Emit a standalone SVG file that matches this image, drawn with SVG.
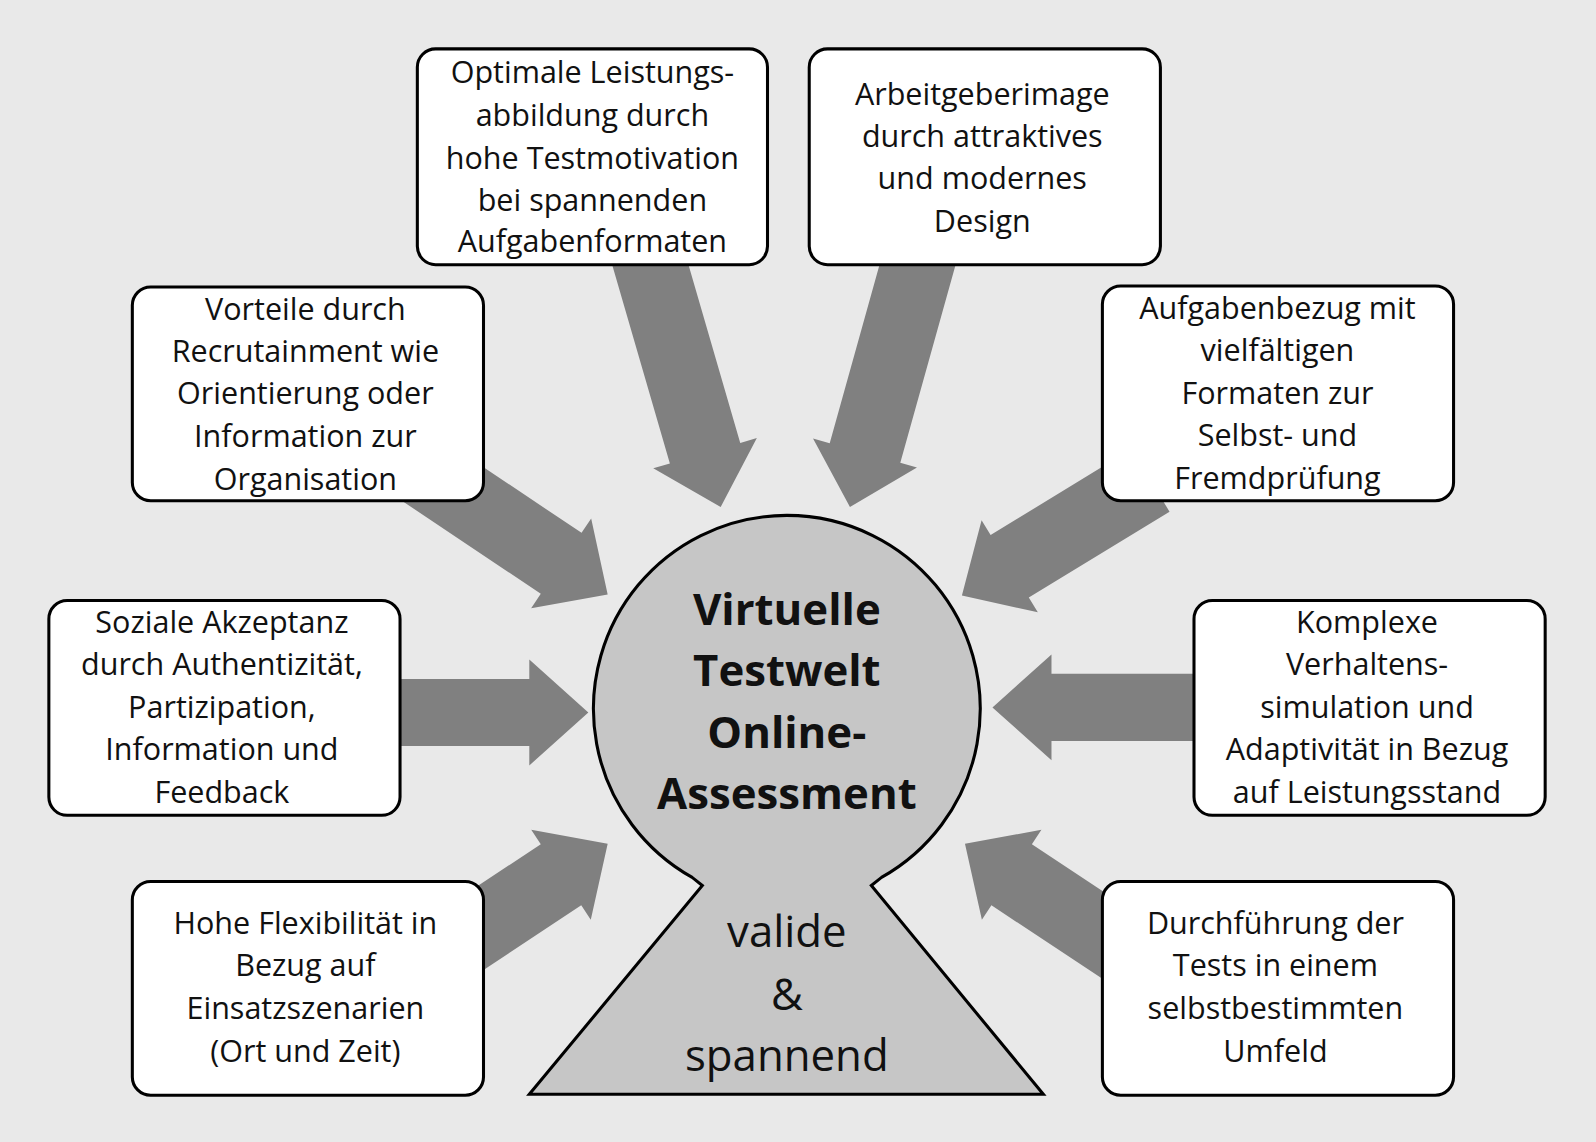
<svg xmlns="http://www.w3.org/2000/svg" width="1596" height="1142" viewBox="0 0 1596 1142">
<style>
.b{fill:#fff;stroke:#000;stroke-width:3}
.a{fill:#808080}
text{font-family:"Open Sans","Noto Sans",sans-serif;font-size:30px;text-anchor:middle;fill:#111}
.c{font-size:43px}
.cb{font-size:43px;font-weight:bold}
</style>
<rect width="1596" height="1142" fill="#e9e9e9"/>
<g transform="scale(1.0179)">
<g id="connectors" class="a">
<g transform="translate(708,498) rotate(73.8)"><polygon points="-279,-36 -55,-36 -55,-53 0,0 -55,53 -55,36 -279,36"/></g>
<g transform="translate(835,498) rotate(105.6)"><polygon points="-278,-36 -55,-36 -55,-53 0,0 -55,53 -55,36 -278,36"/></g>
<g transform="translate(597,584) rotate(33.8)"><polygon points="-225,-36 -55,-36 -55,-53 0,0 -55,53 -55,36 -225,36"/></g>
<g transform="translate(945,585) rotate(148.6)"><polygon points="-217,-36 -55,-36 -55,-53 0,0 -55,53 -55,36 -217,36"/></g>
<g transform="translate(578,700)"><polygon points="-198,-33 -58,-33 -58,-52 0,0 -58,52 -58,33 -198,33"/></g>
<g transform="translate(975,695) rotate(180)"><polygon points="-205,-33 -58,-33 -58,-52 0,0 -58,52 -58,33 -205,33"/></g>
<g transform="translate(597,829) rotate(-33.5)"><polygon points="-216,-36 -55,-36 -55,-53 0,0 -55,53 -55,36 -216,36"/></g>
<g transform="translate(948,829) rotate(213.5)"><polygon points="-216,-36 -55,-36 -55,-53 0,0 -55,53 -55,36 -216,36"/></g>
</g>
<g id="center">
<path d="M520,1075 L690,870 L680,862 A190,190 0 1 1 866,862 L856,870 L1025,1075 Z" fill="#c6c6c6" stroke="#000" stroke-width="3"/>
<text x="773" y="614" class="cb">Virtuelle</text>
<text x="773" y="674" class="cb">Testwelt</text>
<text x="773" y="735" class="cb">Online-</text>
<text x="773" y="795" class="cb">Assessment</text>
<text x="773" y="930" class="c">valide</text>
<text x="773" y="992" class="c">&amp;</text>
<text x="773" y="1052" class="c">spannend</text>
</g>
<g id="n1"><rect class="b" x="410" y="48" width="344" height="212" rx="18"/>
<text x="582" y="82">Optimale Leistungs-</text><text x="582" y="124">abbildung durch</text><text x="582" y="166">hohe Testmotivation</text><text x="582" y="207">bei spannenden</text><text x="582" y="248">Aufgabenformaten</text></g>
<g id="n2"><rect class="b" x="795" y="48" width="345" height="212" rx="18"/>
<text x="965" y="103">Arbeitgeberimage</text><text x="965" y="144">durch attraktives</text><text x="965" y="186">und modernes</text><text x="965" y="228">Design</text></g>
<g id="n3"><rect class="b" x="130" y="282" width="345" height="210" rx="18"/>
<text x="300" y="314">Vorteile durch</text><text x="300" y="356">Recrutainment wie</text><text x="300" y="397">Orientierung oder</text><text x="300" y="439">Information zur</text><text x="300" y="481">Organisation</text></g>
<g id="n4"><rect class="b" x="1083" y="281" width="345" height="211" rx="18"/>
<text x="1255" y="313">Aufgabenbezug mit</text><text x="1255" y="355">vielfältigen</text><text x="1255" y="397">Formaten zur</text><text x="1255" y="438">Selbst- und</text><text x="1255" y="480">Fremdprüfung</text></g>
<g id="n5"><rect class="b" x="48" y="590" width="345" height="211" rx="18"/>
<text x="218" y="622">Soziale Akzeptanz</text><text x="218" y="663">durch Authentizität,</text><text x="218" y="705">Partizipation,</text><text x="218" y="747">Information und</text><text x="218" y="789">Feedback</text></g>
<g id="n6"><rect class="b" x="1173" y="590" width="345" height="211" rx="18"/>
<text x="1343" y="622">Komplexe</text><text x="1343" y="663">Verhaltens-</text><text x="1343" y="705">simulation und</text><text x="1343" y="747">Adaptivität in Bezug</text><text x="1343" y="789">auf Leistungsstand</text></g>
<g id="n7"><rect class="b" x="130" y="866" width="345" height="210" rx="18"/>
<text x="300" y="918">Hohe Flexibilität in</text><text x="300" y="959">Bezug auf</text><text x="300" y="1001">Einsatzszenarien</text><text x="300" y="1043">(Ort und Zeit)</text></g>
<g id="n8"><rect class="b" x="1083" y="866" width="345" height="210" rx="18"/>
<text x="1253" y="918">Durchführung der</text><text x="1253" y="959">Tests in einem</text><text x="1253" y="1001">selbstbestimmten</text><text x="1253" y="1043">Umfeld</text></g>
</g>
</svg>
